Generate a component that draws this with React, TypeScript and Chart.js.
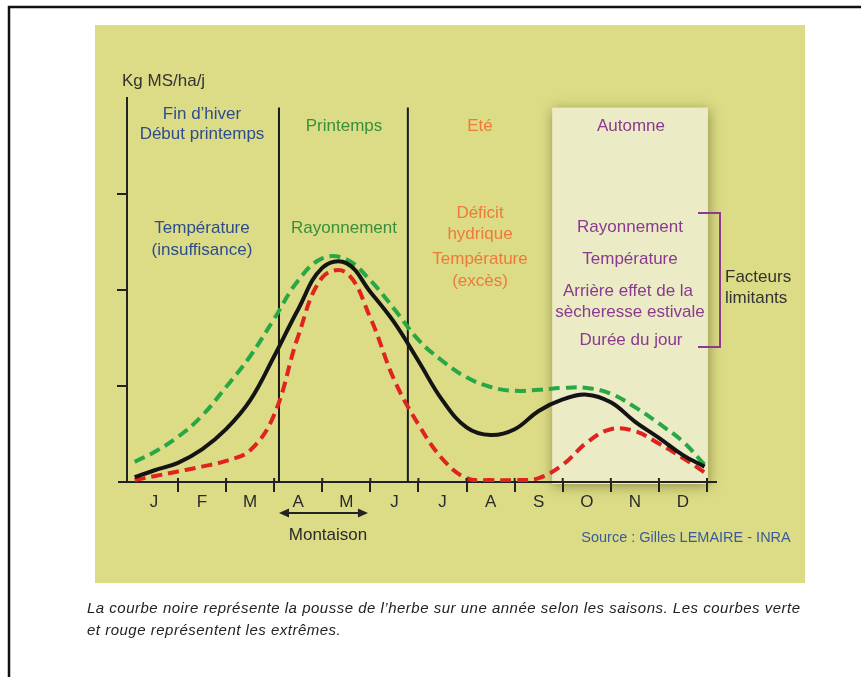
import { useEffect, useRef } from "react";
import { Chart, registerables } from "chart.js";

Chart.register(...registerables);

// ---- data ----
const MONTHS = ["J", "F", "M", "A", "M", "J", "J", "A", "S", "O", "N", "D"];
const POSITIONS = [0.1, 0.5, 1, 1.5, 2, 2.5, 3, 3.5, 4, 4.5, 5, 5.5, 6, 6.5, 7, 7.5, 8, 8.5, 9, 9.5, 10, 10.5, 11, 11.5, 11.95];
const MEAN = [0.05, 0.12, 0.2, 0.34, 0.55, 0.85, 1.31, 1.8, 2.23, 2.28, 1.98, 1.66, 1.26, 0.85, 0.57, 0.49, 0.55, 0.74, 0.86, 0.91, 0.83, 0.63, 0.46, 0.28, 0.16];
const HIGH = [0.21, 0.31, 0.47, 0.69, 0.99, 1.31, 1.7, 2.1, 2.33, 2.32, 2.1, 1.8, 1.48, 1.26, 1.09, 0.99, 0.95, 0.96, 0.98, 0.98, 0.92, 0.78, 0.61, 0.42, 0.18];
const LOW = [0.02, 0.06, 0.11, 0.16, 0.22, 0.33, 0.7, 1.52, 2.13, 2.18, 1.71, 1.06, 0.6, 0.24, 0.04, 0.02, 0.02, 0.04, 0.18, 0.41, 0.55, 0.53, 0.4, 0.25, 0.1];
const Y_TICKS = [1, 2, 3];
const SEASON_BOUNDARIES = [3.1, 5.78];
const AUTUMN_SPAN = [8.78, 12.02];
const MONTAISON_SPAN = [3.1, 4.95];
const PANEL_TOP = 3.9;

const FONT = "'Liberation Sans', Arial, sans-serif";

const decorPlugin = {
  id: "decor",
  beforeDraw(chart: any) {
    const { ctx } = chart;
    const x = chart.scales.x;
    const y = chart.scales.y;
    ctx.save();
    ctx.fillStyle = "#ffffff";
    ctx.fillRect(0, 0, chart.width, chart.height);
    ctx.strokeStyle = "#111";
    ctx.lineWidth = 2.5;
    ctx.beginPath();
    ctx.moveTo(9, chart.height);
    ctx.lineTo(9, 7);
    ctx.lineTo(chart.width, 7);
    ctx.stroke();
    ctx.fillStyle = "#dcdb86";
    ctx.fillRect(95, 25, 710, 558);
    const l = x.getPixelForValue(AUTUMN_SPAN[0]);
    const r = x.getPixelForValue(AUTUMN_SPAN[1]);
    const t = y.getPixelForValue(PANEL_TOP);
    const b = y.getPixelForValue(0) + 2;
    ctx.shadowColor = "rgba(70,70,10,0.5)";
    ctx.shadowBlur = 12;
    ctx.shadowOffsetX = 1;
    ctx.shadowOffsetY = 2;
    ctx.fillStyle = "#ebebc5";
    ctx.fillRect(l, t, r - l, b - t);
    ctx.restore();
  },
  beforeDatasetsDraw(chart: any) {
    const { ctx } = chart;
    const x = chart.scales.x;
    const y = chart.scales.y;
    ctx.save();
    ctx.strokeStyle = "#1a1a1a";
    ctx.lineWidth = 2;
    SEASON_BOUNDARIES.forEach((m) => {
      const px = x.getPixelForValue(m);
      ctx.beginPath();
      ctx.moveTo(px, y.getPixelForValue(PANEL_TOP));
      ctx.lineTo(px, y.getPixelForValue(0));
      ctx.stroke();
    });
    ctx.restore();
  },
  afterDraw(chart: any) {
    const { ctx, chartArea } = chart;
    const x = chart.scales.x;
    ctx.save();
    ctx.strokeStyle = "#222";
    ctx.lineWidth = 2;
    const by = chartArea.bottom;
    ctx.beginPath();
    ctx.moveTo(chartArea.left - 9, by);
    ctx.lineTo(chartArea.left, by);
    ctx.moveTo(chartArea.right, by);
    ctx.lineTo(chartArea.right + 10, by);
    ctx.stroke();
    for (let i = 1; i <= 12; i++) {
      const px = x.getPixelForValue(i);
      ctx.beginPath();
      ctx.moveTo(px, by - 4);
      ctx.lineTo(px, by);
      ctx.stroke();
    }
    // Montaison arrow
    const a0 = x.getPixelForValue(MONTAISON_SPAN[0]);
    const a1 = x.getPixelForValue(MONTAISON_SPAN[1]);
    const ay = 513;
    ctx.strokeStyle = "#222";
    ctx.fillStyle = "#222";
    ctx.lineWidth = 2;
    ctx.beginPath();
    ctx.moveTo(a0 + 6, ay);
    ctx.lineTo(a1 - 6, ay);
    ctx.stroke();
    ctx.beginPath();
    ctx.moveTo(a0, ay);
    ctx.lineTo(a0 + 10, ay - 4.5);
    ctx.lineTo(a0 + 10, ay + 4.5);
    ctx.closePath();
    ctx.fill();
    ctx.beginPath();
    ctx.moveTo(a1, ay);
    ctx.lineTo(a1 - 10, ay - 4.5);
    ctx.lineTo(a1 - 10, ay + 4.5);
    ctx.closePath();
    ctx.fill();
    // bracket
    ctx.strokeStyle = "#8b3a8f";
    ctx.lineWidth = 2;
    ctx.beginPath();
    ctx.moveTo(698, 213);
    ctx.lineTo(720, 213);
    ctx.lineTo(720, 347);
    ctx.lineTo(698, 347);
    ctx.stroke();
    ctx.restore();
  },
};

type LabelProps = { x: number; y: number; color: string; size?: number; left?: boolean; children: any };
function Label({ x, y, color, size = 17, left = false, children }: LabelProps) {
  return (
    <div
      style={{
        position: "absolute",
        left: x,
        top: y,
        transform: left ? "translate(0,-50%)" : "translate(-50%,-50%)",
        color,
        fontFamily: FONT,
        fontSize: size,
        lineHeight: 1,
        whiteSpace: "nowrap",
      }}
    >
      {children}
    </div>
  );
}

export default function App() {
  const ref = useRef<HTMLCanvasElement | null>(null);

  useEffect(() => {
    if (!ref.current) return;
    const mk = (vals: number[]) => POSITIONS.map((p, i) => ({ x: p, y: vals[i] }));
    const common = { pointRadius: 0, tension: 0.4, fill: false, borderWidth: 4, borderCapStyle: "butt" };
    const chart = new Chart(ref.current, {
      type: "line",
      data: {
        datasets: [
          { ...common, label: "Moyenne", data: mk(MEAN), borderColor: "#141414" },
          { ...common, label: "Minimum", data: mk(LOW), borderColor: "#e0231f", borderDash: [11, 6] },
          { ...common, label: "Maximum", data: mk(HIGH), borderColor: "#27a844", borderDash: [11, 6] },
        ],
      },
      options: {
        animation: false,
        responsive: false,
        events: [],
        layout: { padding: { left: 117, top: 98, right: 154, bottom: 165 } },
        plugins: { legend: { display: false }, tooltip: { enabled: false }, title: { display: false } },
        scales: {
          x: {
            type: "linear",
            min: -0.06,
            max: 12,
            afterBuildTicks: (scale: any) => {
              const t = [];
              for (let v = 0.5; v <= 12; v += 0.5) t.push({ value: v });
              scale.ticks = t;
            },
            afterFit: (scale: any) => {
              scale.height = 30;
            },
            ticks: {
              autoSkip: false,
              maxRotation: 0,
              minRotation: 0,
              padding: 0,
              color: "#2a2a2a",
              font: { family: FONT, size: 17 },
              callback: (v: any) => {
                const n = Number(v);
                if (Number.isInteger(n)) return "";
                return MONTHS[Math.floor(n)];
              },
            },
            grid: {
              drawOnChartArea: false,
              drawTicks: true,
              tickLength: 10,
              lineWidth: 2,
              color: (c: any) => (c.tick && Number.isInteger(c.tick.value) ? "#222" : "rgba(0,0,0,0)"),
            },
            border: { display: true, color: "#222", width: 2 },
          },
          y: {
            type: "linear",
            min: 0,
            max: 4,
            afterBuildTicks: (scale: any) => {
              scale.ticks = Y_TICKS.map((v) => ({ value: v }));
            },
            afterFit: (scale: any) => {
              scale.width = 10;
            },
            ticks: { display: false },
            grid: { drawOnChartArea: false, drawTicks: true, tickLength: 10, lineWidth: 2, color: "#222" },
            border: { display: true, color: "#222", width: 2 },
          },
        },
      },
      plugins: [decorPlugin],
    } as any);
    return () => chart.destroy();
  }, []);

  const blue = "#2d4d8c";
  const green = "#3a8f3a";
  const orange = "#ee7a3a";
  const purple = "#8b3a8f";

  return (
    <div style={{ position: "fixed", left: 0, top: 0, width: 861, height: 677, background: "#fff", overflow: "hidden" }}>
      <canvas ref={ref} width={861} height={677} style={{ position: "absolute", left: 0, top: 0, width: 861, height: 677 }} />
      <Label x={122} y={80} color="#333" left>Kg MS/ha/j</Label>

      <Label x={202} y={113} color={blue}>Fin d’hiver</Label>
      <Label x={202} y={133} color={blue}>Début printemps</Label>
      <Label x={344} y={125} color={green}>Printemps</Label>
      <Label x={480} y={125} color={orange}>Eté</Label>
      <Label x={631} y={125} color={purple}>Automne</Label>

      <Label x={202} y={227} color={blue}>Température</Label>
      <Label x={202} y={249} color={blue}>(insuffisance)</Label>
      <Label x={344} y={227} color={green}>Rayonnement</Label>
      <Label x={480} y={212} color={orange}>Déficit</Label>
      <Label x={480} y={233} color={orange}>hydrique</Label>
      <Label x={480} y={258} color={orange}>Température</Label>
      <Label x={480} y={280} color={orange}>(excès)</Label>

      <Label x={630} y={226} color={purple}>Rayonnement</Label>
      <Label x={630} y={258} color={purple}>Température</Label>
      <Label x={628} y={290} color={purple}>Arrière effet de la</Label>
      <Label x={630} y={311} color={purple}>sècheresse estivale</Label>
      <Label x={631} y={339} color={purple}>Durée du jour</Label>

      <Label x={725} y={276} color="#333" left>Facteurs</Label>
      <Label x={725} y={297} color="#333" left>limitants</Label>

      <Label x={328} y={534} color="#2a2a2a">Montaison</Label>
      <Label x={686} y={537} color="#3b5b9b" size={14.5}>Source : Gilles LEMAIRE - INRA</Label>

      <div
        style={{
          position: "absolute",
          left: 87,
          top: 597,
          width: 760,
          fontFamily: FONT,
          fontStyle: "italic",
          fontSize: 15,
          letterSpacing: "0.5px",
          lineHeight: "22px",
          whiteSpace: "nowrap",
          color: "#222",
        }}
      >
        La courbe noire représente la pousse de l’herbe sur une année selon les saisons. Les courbes verte
        <br />
        et rouge représentent les extrêmes.
      </div>
    </div>
  );
}
